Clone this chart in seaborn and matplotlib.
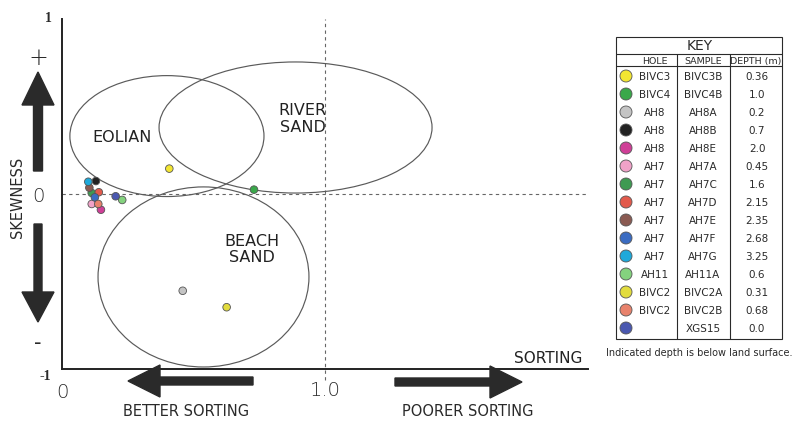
import matplotlib
matplotlib.use("Agg")
import matplotlib.pyplot as plt
from matplotlib.patches import Ellipse, Polygon, Rectangle
import seaborn as sns
import pandas as pd

# Sample key
holes = ["BIVC3", "BIVC4", "AH8", "AH8", "AH8", "AH7", "AH7", "AH7", "AH7",
         "AH7", "AH7", "AH11", "BIVC2", "BIVC2", ""]
samples = ["BIVC3B", "BIVC4B", "AH8A", "AH8B", "AH8E", "AH7A", "AH7C", "AH7D",
           "AH7E", "AH7F", "AH7G", "AH11A", "BIVC2A", "BIVC2B", "XGS15"]
depths = ["0.36", "1.0", "0.2", "0.7", "2.0", "0.45", "1.6", "2.15", "2.35",
          "2.68", "3.25", "0.6", "0.31", "0.68", "0.0"]
colors = ["#f3e632", "#3aa84a", "#c4c4c4", "#222222", "#cf3f97", "#f0a2c8",
          "#3f9a52", "#e25a4c", "#8a5a52", "#3b6cc2", "#1fa9da", "#84d27e",
          "#e2dc3e", "#e8826c", "#4a58b0"]

# Grain-size statistics (sorting vs. skewness)
sorting = [0.408, 0.730, 0.459, 0.129, 0.148, 0.113, 0.113, 0.140, 0.104,
           0.125, 0.100, 0.229, 0.626, 0.138, 0.204]
skewness = [0.145, 0.025, -0.553, 0.074, -0.090, -0.057, 0.006, 0.010, 0.036,
            -0.019, 0.070, -0.034, -0.647, -0.057, -0.013]

# Depositional environment fields (ellipses)
fields = ["EOLIAN", "RIVER\nSAND", "BEACH\nSAND"]
field_x = [0.399, 0.888, 0.538]
field_y = [0.331, 0.380, -0.474]
field_w = [0.738, 1.038, 0.802]
field_h = [0.691, 0.749, 1.029]

df = pd.DataFrame({"sample": samples, "sorting": sorting, "skewness": skewness})

sns.set_theme(style="white")
plt.rcParams["font.family"] = ["DejaVu Sans"]
W, H = 793, 427
fig = plt.figure(figsize=(W / 100, H / 100), dpi=100)
fig.patch.set_facecolor("white")

ax = fig.add_axes([62 / W, (H - 370) / H, 526 / W, 350 / H])
ax.set_xlim(0, 2.0)
ax.set_ylim(-1, 1)
ax.set_facecolor("none")
for s in ["top", "right"]:
    ax.spines[s].set_visible(False)
for s in ["left", "bottom"]:
    ax.spines[s].set_color("#222222")
    ax.spines[s].set_linewidth(1.4)
ax.set_xticks([])
ax.set_yticks([])

# reference lines
ax.axhline(0, color="#666666", lw=0.8, ls=(0, (3, 3)), zorder=1)
ax.plot([1.0, 1.0], [-1.06, 1.0], color="#666666", lw=0.8, ls=(0, (3, 3)),
        zorder=1, clip_on=False)

# environment fields
label_pos = [(0.228, 0.331), (0.916, 0.434), (0.722, -0.311)]
for name, cx, cy, w, h, (lx, ly) in zip(fields, field_x, field_y, field_w,
                                         field_h, label_pos):
    ax.add_patch(Ellipse((cx, cy), w, h, fill=False, ec="#5a5a5a", lw=0.85,
                         zorder=2))
    ax.text(lx, ly, name, ha="center", va="center", fontsize=11.5,
            color="#222222", linespacing=1.15, zorder=3)

palette = dict(zip(samples, colors))
sns.scatterplot(data=df, x="sorting", y="skewness", hue="sample",
                palette=palette, s=30, edgecolor="#555555", linewidth=0.6,
                legend=False, ax=ax, zorder=5)
ax.set_xlabel("")
ax.set_ylabel("")

ax.text(1.98, -0.975, "SORTING", ha="right", va="bottom", fontsize=11,
        color="#222222")

# overlay in pixel coordinates for annotations and the key
ov = fig.add_axes([0, 0, 1, 1], zorder=10)
ov.set_xlim(0, W)
ov.set_ylim(H, 0)
ov.axis("off")
ov.patch.set_alpha(0)

dark = "#2a2a2a"
# vertical skewness arrows
ov.add_patch(Polygon([(38, 73), (54, 106), (42.5, 106), (42.5, 172),
                      (33.5, 172), (33.5, 106), (22, 106)], closed=True,
                     color=dark))
ov.add_patch(Polygon([(38, 323), (54, 293), (42, 293), (42, 225),
                      (34, 225), (34, 293), (22, 293)], closed=True,
                     color=dark))
# horizontal sorting arrows
ov.add_patch(Polygon([(128, 382), (160, 366), (160, 378), (253, 378),
                      (253, 386), (160, 386), (160, 398)], closed=True,
                     color=dark))
ov.add_patch(Polygon([(522, 383), (490, 367), (490, 379), (395, 379),
                      (395, 387), (490, 387), (490, 399)], closed=True,
                     color=dark))

ov.text(38, 58, "+", ha="center", va="center", fontsize=17, color=dark,
        weight="light")
ov.text(38, 343, "-", ha="center", va="center", fontsize=15, color=dark)
ov.text(38, 197, "0", ha="center", va="center", fontsize=14, color=dark,
        weight="light")
ov.text(18, 197, "SKEWNESS", ha="center", va="center", rotation=90,
        fontsize=10.5, color=dark)
ov.text(48, 18, "1", ha="center", va="center", fontsize=10, weight="bold",
        family="Liberation Serif", color=dark)
ov.text(45, 377, "-1", ha="center", va="center", fontsize=10, weight="bold",
        family="Liberation Serif", color=dark)
ov.text(62, 393, "0", ha="center", va="center", fontsize=14, color=dark,
        weight="light")
ov.text(325, 391, "1.0", ha="center", va="center", fontsize=14, color=dark,
        weight="light")
ov.text(186, 412, "BETTER SORTING", ha="center", va="center", fontsize=10.5,
        color=dark)
ov.text(468, 412, "POORER SORTING", ha="center", va="center", fontsize=10.5,
        color=dark)

# key table
tl, tr, tt, tb = 616, 782, 38, 340
lw = 0.8
ov.add_patch(Rectangle((tl, tt), tr - tl, tb - tt, fill=False, ec=dark, lw=lw))
ov.plot([tl, tr], [55, 55], color=dark, lw=lw)
ov.plot([tl, tr], [67, 67], color=dark, lw=lw)
for cx in (677, 730):
    ov.plot([cx, cx], [55, tb], color=dark, lw=lw)
ov.text(700, 46, "KEY", ha="center", va="center", fontsize=10, color=dark)
ov.text(655, 61.5, "HOLE", ha="center", va="center", fontsize=6.8, color=dark)
ov.text(703, 61.5, "SAMPLE", ha="center", va="center", fontsize=6.8, color=dark)
ov.text(756, 61.5, "DEPTH (m)", ha="center", va="center", fontsize=6.8,
        color=dark)
row_y = [77 + 18 * i for i in range(len(samples))]
ov.scatter([626] * len(samples), row_y, s=75, c=colors, edgecolors="#555555",
           linewidths=0.6, zorder=5)
for y, h, smp, d in zip(row_y, holes, samples, depths):
    ov.text(655, y, h, ha="center", va="center", fontsize=7.5, color=dark)
    ov.text(703, y, smp, ha="center", va="center", fontsize=7.5, color=dark)
    ov.text(757, y, d, ha="center", va="center", fontsize=7.5, color=dark)
ov.text(699, 353, "Indicated depth is below land surface.", ha="center",
        va="center", fontsize=7, color=dark)

fig.savefig("out.png", dpi=100)
